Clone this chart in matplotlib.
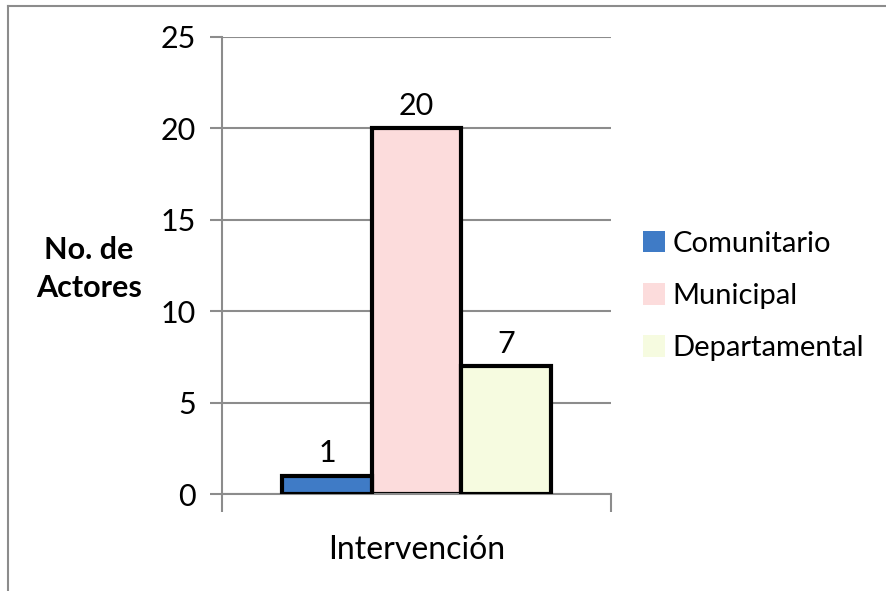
import matplotlib
matplotlib.use("Agg")
import matplotlib.pyplot as plt
from matplotlib.patches import Patch
from matplotlib.lines import Line2D

plt.rcParams['font.family'] = ['Lato', 'DejaVu Sans']

category = ["Intervención"]
series = ["Comunitario", "Municipal", "Departamental"]
values = [1, 20, 7]
colors = ["#3f7bc6", "#fcdcdc", "#f6fbe0"]
yticks = [0, 5, 10, 15, 20, 25]

W, H = 887, 591
fig = plt.figure(figsize=(W / 100, H / 100), dpi=100)
ax = fig.add_axes([222 / W, 1 - 494 / H, 389 / W, 457 / H])

bw = 0.23
offsets = [-bw, 0, bw]
for i, (s, v, c) in enumerate(zip(series, values, colors)):
    ax.bar(offsets[i], v, width=bw, color=c, edgecolor="black", linewidth=3, zorder=3 if i != 1 else 2)
    ax.text(offsets[i], v + 0.45, str(v), ha="center", va="bottom", fontsize=22)

ax.set_xlim(-0.5, 0.5)
ax.set_ylim(0, 25)
ax.set_yticks(yticks)
ax.set_yticklabels([str(t) for t in yticks], fontsize=22)
ax.set_xticks([-0.5, 0.5])
ax.set_xticklabels(["", ""])
ax.tick_params(axis="y", direction="out", length=9, width=1.5, color="#8c8c8c", pad=10)
ax.tick_params(axis="x", direction="out", length=13, width=1.5, color="#8c8c8c")
ax.yaxis.grid(True, color="#8c8c8c", linewidth=1.5, zorder=0)
ax.set_axisbelow(True)
for sp in ["top", "right"]:
    ax.spines[sp].set_visible(False)
for sp in ["left", "bottom"]:
    ax.spines[sp].set_color("#8c8c8c")
    ax.spines[sp].set_linewidth(1.5)

fig.text(417 / W, 1 - 550 / H, category[0], ha="center", va="center", fontsize=23)
fig.text(89 / W, 1 - 269 / H, "No. de\nActores", ha="center", va="center",
         fontsize=22, fontweight="bold", linespacing=1.45)

handles = [Patch(facecolor=c, edgecolor="none") for c in colors]
fig.legend(handles, series, loc="center left", bbox_to_anchor=(643 / W, 1 - 296 / H),
           frameon=False, fontsize=21, handlelength=0.75, handleheight=0.75,
           handletextpad=0.25, labelspacing=0.9, borderaxespad=0, borderpad=0)

fig.add_artist(Line2D([8 / W, 1], [1 - 6 / H, 1 - 6 / H], color="#8c8c8c", linewidth=1.5))
fig.add_artist(Line2D([8 / W, 8 / W], [0, 1 - 6 / H], color="#8c8c8c", linewidth=1.5))

fig.savefig("out.png", dpi=100)
